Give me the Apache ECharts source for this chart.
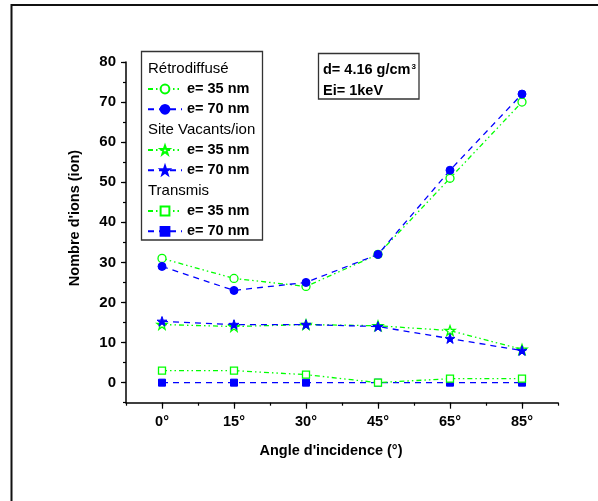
<!DOCTYPE html>
<html>
<head>
<meta charset="utf-8">
<script src="https://cdn.jsdelivr.net/npm/echarts@6/dist/echarts.min.js"></script>
<style>
  html, body { margin: 0; padding: 0; background: #fff; }
  #chart { width: 598px; height: 501px; }
</style>
</head>
<body>
<div id="chart"></div>
<script>
// Angles of incidence (category labels along x)
const angles = ['0°', '15°', '30°', '45°', '65°', '85°'];

// Rétrodiffusé
const retro35 = [31, 26, 24, 32, 51, 70];
const retro70 = [29, 23, 25, 32, 53, 72];
// Site Vacants/ion
const vac35 = [14.5, 14, 14.5, 14.2, 13, 8.3];
const vac70 = [15.3, 14.5, 14.5, 14, 11, 8];
// Transmis
const trans35 = [3, 3, 2, 0, 1, 1];
const trans70 = [0, 0, 0, 0, 0, 0];

const yTicks = [0, 10, 20, 30, 40, 50, 60, 70, 80];

const FONT = '"Liberation Sans", Arial, Helvetica, sans-serif';
const GREEN = '#00ff00';
const BLUE = '#0000ff';
const DASH_DOT_DOT = [5, 3, 1.5, 3, 1.5, 3];
const DASH = [6, 5];
const STAR = 'path://M12,0 L14.9,8.3 L23.4,8.3 L16.5,13.5 L19.1,22 L12,16.8 L4.9,22 L7.5,13.5 L0.6,8.3 L9.1,8.3 Z';

const SEP = '|';
function toPoints(values) {
  return values.map((v, i) => [i, v]);
}

function makeSeries(group, label, values, symbol, size, hollow, color, dash) {
  return {
    name: group + SEP + label,
    type: 'line',
    data: toPoints(values),
    symbol: symbol,
    symbolSize: size,
    symbolKeepAspect: true,
    showSymbol: true,
    itemStyle: hollow
      ? { color: '#ffffff', borderColor: color, borderWidth: 1.3 }
      : { color: color, borderColor: color, borderWidth: 1 },
    lineStyle: { color: color, width: 1.3, type: dash },
    emphasis: { disabled: true }
  };
}

const series = [
  makeSeries('R', 'e= 35 nm', retro35, 'circle', 8, true, GREEN, DASH_DOT_DOT),
  makeSeries('R', 'e= 70 nm', retro70, 'circle', 8, false, BLUE, DASH),
  makeSeries('V', 'e= 35 nm', vac35, STAR, 10, true, GREEN, DASH_DOT_DOT),
  makeSeries('V', 'e= 70 nm', vac70, STAR, 10, false, BLUE, DASH),
  makeSeries('T', 'e= 70 nm', trans70, 'rect', 7, false, BLUE, DASH),
  makeSeries('T', 'e= 35 nm', trans35, 'rect', 7, true, GREEN, DASH_DOT_DOT)
];

function legendGroup(group, top) {
  return {
    data: [group + SEP + 'e= 35 nm', group + SEP + 'e= 70 nm'],
    orient: 'vertical',
    left: 147,
    top: top,
    padding: 0,
    itemWidth: 34,
    itemHeight: 11,
    itemGap: 4.3,
    selectedMode: false,
    formatter: name => name.split(SEP)[1],
    textStyle: { fontFamily: FONT, fontWeight: 'bold', fontSize: 14.5, color: '#000', lineHeight: 16 }
  };
}

const xText = { fontFamily: FONT, fontWeight: 'bold', fontSize: 14.5, color: '#000' };
const yText = { fontFamily: FONT, fontWeight: 'bold', fontSize: 15, color: '#000' };

const chart = echarts.init(document.getElementById('chart'), null, { renderer: 'canvas' });
chart.setOption({
  animation: false,
  backgroundColor: '#ffffff',
  grid: { left: 126, right: 40, top: 62, bottom: 98.3, containLabel: false },
  xAxis: [
    {
      type: 'value', min: -0.5, max: 5.5, interval: 0.5, position: 'bottom',
      axisLine: { show: true, onZero: false, lineStyle: { color: '#000', width: 1.5 } },
      axisTick: { show: true, inside: false, length: 3, lineStyle: { color: '#000', width: 1.2 } },
      axisLabel: { show: false },
      splitLine: { show: false }
    },
    {
      type: 'value', min: -0.5, max: 5.5, position: 'bottom',
      axisLine: { show: false, onZero: false },
      axisTick: { show: true, inside: false, length: 6, customValues: angles.map((_, i) => i), lineStyle: { color: '#000', width: 1.2 } },
      axisLabel: Object.assign({ show: true, margin: 12, customValues: angles.map((_, i) => i), formatter: v => angles[Math.round(v)] }, xText),
      splitLine: { show: false }
    }
  ],
  yAxis: [
    {
      type: 'value', min: -5, max: 80, interval: 5, position: 'left',
      axisLine: { show: true, onZero: false, lineStyle: { color: '#000', width: 1.5 } },
      axisTick: { show: true, inside: false, length: 3, lineStyle: { color: '#000', width: 1.2 } },
      axisLabel: { show: false },
      splitLine: { show: false }
    },
    {
      type: 'value', min: -5, max: 80, position: 'left',
      axisLine: { show: false, onZero: false },
      axisTick: { show: true, inside: false, length: 5, customValues: yTicks, lineStyle: { color: '#000', width: 1.2 } },
      axisLabel: Object.assign({ show: true, margin: 10, customValues: yTicks }, yText),
      splitLine: { show: false }
    }
  ],
  legend: [legendGroup('R', 81), legendGroup('V', 142), legendGroup('T', 203)],
  series: series,
  graphic: [
    // outer frame
    { type: 'rect', shape: { x: 11.5, y: 5, width: 700, height: 600 }, style: { fill: 'none', stroke: '#111', lineWidth: 2 }, silent: true },
    // legend box and headings
    { type: 'rect', shape: { x: 141.5, y: 51.5, width: 121, height: 188.5 }, style: { fill: 'none', stroke: '#333', lineWidth: 1.3 }, z: 100, silent: true },
    { type: 'text', x: 148, y: 68.5, style: { text: 'Rétrodiffusé', font: '15px ' + FONT, fill: '#000', align: 'left', verticalAlign: 'middle', textAlign: 'left', textVerticalAlign: 'middle' }, z: 100 },
    { type: 'text', x: 148, y: 129.5, style: { text: 'Site Vacants/ion', font: '15px ' + FONT, fill: '#000', align: 'left', verticalAlign: 'middle', textAlign: 'left', textVerticalAlign: 'middle' }, z: 100 },
    { type: 'text', x: 148, y: 190.5, style: { text: 'Transmis', font: '15px ' + FONT, fill: '#000', align: 'left', verticalAlign: 'middle', textAlign: 'left', textVerticalAlign: 'middle' }, z: 100 },
    // parameters box
    { type: 'rect', shape: { x: 318.5, y: 53.5, width: 100.5, height: 45.5 }, style: { fill: 'none', stroke: '#333', lineWidth: 1.3 }, z: 100, silent: true },
    { type: 'text', x: 323, y: 70, style: {
        text: '{a|d= 4.16 g/cm}{s|3}',
        rich: {
          a: { font: 'bold 14.5px ' + FONT, fill: '#000', verticalAlign: 'middle' },
          s: { font: 'bold 8px ' + FONT, fill: '#000', verticalAlign: 'top', padding: [0, 0, 0, 1] }
        },
        align: 'left', verticalAlign: 'middle', textAlign: 'left', textVerticalAlign: 'middle'
      }, z: 100 },
    { type: 'text', x: 323, y: 90.7, style: { text: 'Ei= 1keV', font: 'bold 14.5px ' + FONT, fill: '#000', align: 'left', verticalAlign: 'middle', textAlign: 'left', textVerticalAlign: 'middle' }, z: 100 },
    // axis titles
    { type: 'text', x: 75, y: 218, rotation: Math.PI / 2, style: { text: "Nombre d'ions (ion)", font: 'bold 14.5px ' + FONT, fill: '#000', align: 'center', verticalAlign: 'middle', textAlign: 'center', textVerticalAlign: 'middle' }, z: 100 },
    { type: 'text', x: 331, y: 450.5, style: { text: "Angle d'incidence (°)", font: 'bold 14.5px ' + FONT, fill: '#000', align: 'center', verticalAlign: 'middle', textAlign: 'center', textVerticalAlign: 'middle' }, z: 100 }
  ]
});
</script>
</body>
</html>
